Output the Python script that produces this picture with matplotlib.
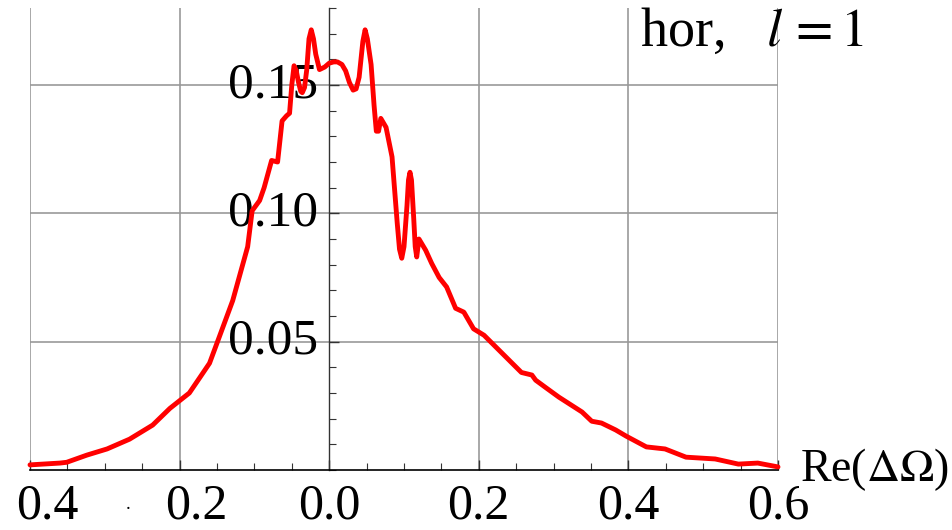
import matplotlib
matplotlib.use("Agg")
import matplotlib.pyplot as plt
import matplotlib.transforms as mtransforms
from matplotlib.ticker import MultipleLocator

plt.rcParams['font.family'] = ['Liberation Serif', 'DejaVu Serif']
plt.rcParams['mathtext.fontset'] = 'stix'

# Re(dOmega) vs density
re_x = [-0.400, -0.360, -0.351, -0.324, -0.297, -0.267, -0.236, -0.213, -0.187, -0.173,
        -0.160, -0.147, -0.129, -0.109, -0.103, -0.093, -0.087, -0.077, -0.069, -0.063,
        -0.057, -0.053, -0.050, -0.047, -0.044, -0.041, -0.038, -0.036, -0.033, -0.030,
        -0.027, -0.024, -0.021, -0.018, -0.013, -0.006, 0.000, 0.006, 0.011, 0.017,
        0.022, 0.027, 0.032, 0.036, 0.040, 0.045, 0.048, 0.051, 0.056, 0.060,
        0.063, 0.066, 0.069, 0.076, 0.084, 0.091, 0.094, 0.097, 0.100, 0.104,
        0.106, 0.108, 0.110, 0.113, 0.115, 0.117, 0.120, 0.129, 0.137, 0.147,
        0.157, 0.169, 0.180, 0.193, 0.207, 0.227, 0.257, 0.271, 0.276, 0.290,
        0.307, 0.338, 0.351, 0.364, 0.383, 0.397, 0.424, 0.449, 0.477, 0.516,
        0.547, 0.573, 0.600]
density = [0.0020, 0.0027, 0.0030, 0.0058, 0.0082, 0.0120, 0.0175, 0.0240, 0.0300, 0.0360,
           0.0416, 0.0518, 0.0660, 0.0870, 0.1010, 0.1050, 0.1100, 0.1206, 0.1200, 0.1360,
           0.1380, 0.1390, 0.1500, 0.1575, 0.1555, 0.1510, 0.1475, 0.1470, 0.1490, 0.1560,
           0.1680, 0.1715, 0.1680, 0.1620, 0.1560, 0.1570, 0.1585, 0.1590, 0.1590, 0.1580,
           0.1555, 0.1510, 0.1480, 0.1485, 0.1530, 0.1670, 0.1715, 0.1680, 0.1580, 0.1420,
           0.1320, 0.1320, 0.1370, 0.1335, 0.1220, 0.0960, 0.0860, 0.0825, 0.0870, 0.1030,
           0.1130, 0.1160, 0.1130, 0.0980, 0.0870, 0.0830, 0.0900, 0.0856, 0.0805, 0.0750,
           0.0713, 0.0630, 0.0615, 0.0550, 0.0525, 0.0467, 0.0380, 0.0370, 0.0350, 0.0320,
           0.0284, 0.0226, 0.0190, 0.0183, 0.0156, 0.0132, 0.0090, 0.0082, 0.0050, 0.0043,
           0.0023, 0.0027, 0.0012]

x_ticks = [-0.4, -0.2, 0.0, 0.2, 0.4, 0.6]
x_tick_labels = ['0.4', '0.2', '0.0', '0.2', '0.4', '0.6']
y_ticks = [0.05, 0.10, 0.15]
y_tick_labels = ['0.05', '0.10', '0.15']

fig = plt.figure(figsize=(9.53, 5.30), dpi=100)
ax = fig.add_axes([30 / 953, 60 / 530, 748 / 953, 462 / 530])

ax.set_xlim(-0.4, 0.6)
ax.set_ylim(0, 0.18)

# mathematica-like axes crossing at the origin
ax.spines['left'].set_position(('data', 0))
ax.spines['bottom'].set_position(('data', 0))
ax.spines['top'].set_visible(False)
ax.spines['right'].set_visible(False)
ax.spines['left'].set_color('#333333')
ax.spines['bottom'].set_color('black')
ax.spines['left'].set_linewidth(1.0)
ax.spines['bottom'].set_linewidth(1.2)

# grid lines
for gx in x_ticks:
    if gx != 0.0:
        ax.axvline(gx, color='#999999', lw=1.2, zorder=0)
for gy in y_ticks:
    ax.axhline(gy, color='#999999', lw=1.2, zorder=0)

ax.set_xticks(x_ticks)
ax.set_yticks(y_ticks)
ax.xaxis.set_minor_locator(MultipleLocator(0.05))
ax.yaxis.set_minor_locator(MultipleLocator(0.01))
ax.tick_params(axis='both', which='major', direction='in', length=7, width=1, color='#333333')
ax.tick_params(axis='both', which='minor', direction='in', length=5, width=0.8, color='#333333')
ax.set_xticklabels([])
ax.set_yticklabels([])

# tick labels drawn by hand (negative ones lost their minus sign)
xtrans = mtransforms.blended_transform_factory(ax.transData, ax.transAxes)
for tx, lab in zip(x_ticks, x_tick_labels):
    shift = 17 / 750 if tx < 0 else 0.0
    ax.text(tx + shift, -0.028, lab, transform=xtrans, ha='center', va='top',
            fontsize=36, clip_on=False, zorder=1)
ax.text(-0.269, -0.075, '.', transform=xtrans, ha='center', va='center',
        fontsize=14, clip_on=False)

for ty, lab in zip(y_ticks, y_tick_labels):
    ax.text(-0.015, ty, lab, ha='right', va='center', fontsize=37, zorder=1)

ax.plot(re_x, density, color='#ff0000', lw=3.5, zorder=3, clip_on=False,
        solid_joinstyle='round', solid_capstyle='round')

ax.text(1.03, 0.0, r'Re($\Delta\Omega$)', transform=ax.transAxes, ha='left', va='center',
        fontsize=33, clip_on=False, zorder=4,
        bbox=dict(facecolor='white', edgecolor='none', pad=1))
fig.text(640 / 953, 1 - 33 / 530, r'hor,   $l\,=1$', ha='left', va='center', fontsize=39)

fig.savefig('out.png', dpi=100)
